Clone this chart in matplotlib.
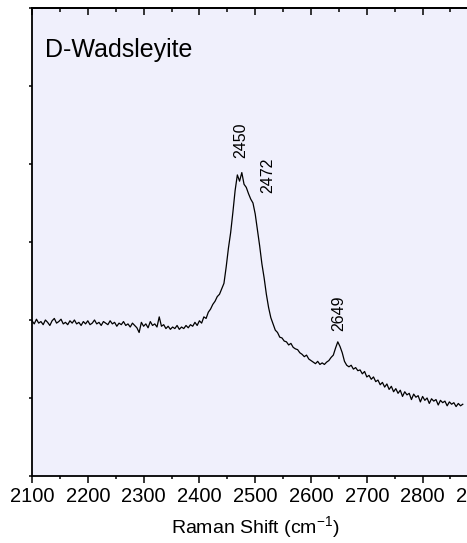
import numpy as np
import matplotlib
matplotlib.use("Agg")
import matplotlib.pyplot as plt
from matplotlib.ticker import MultipleLocator

plt.rcParams['font.family'] = ['Liberation Sans', 'DejaVu Sans']
plt.rcParams['mathtext.fontset'] = 'custom'
plt.rcParams['mathtext.rm'] = 'Liberation Sans'
plt.rcParams['mathtext.it'] = 'Liberation Sans:italic'
plt.rcParams['mathtext.bf'] = 'Liberation Sans:bold'

# Raman shift grid (cm^-1), 4 cm^-1 spacing from 2100 to 2872
shift = np.arange(2100, 2873, 4)

# Intensity (arb. units)
intensity = [
    1.99, 1.95, 2.01, 1.96, 1.98, 1.94, 2.00, 1.97, 1.93, 1.99,
    2.02, 1.96, 1.98, 2.01, 1.95, 1.97, 1.94, 1.99, 1.96, 2.00,
    1.95, 1.97, 1.93, 1.98, 1.95, 1.99, 1.94, 1.96, 2.00, 1.95,
    1.97, 1.93, 1.98, 1.96, 1.94, 1.99, 1.95, 1.97, 1.92, 1.96,
    1.94, 1.98, 1.93, 1.95, 1.91, 1.96, 1.93, 1.90, 1.84, 1.97,
    1.92, 1.95, 1.90, 1.98, 1.93, 1.95, 1.91, 2.04, 1.92, 1.94,
    1.89, 1.92, 1.88, 1.91, 1.89, 1.93, 1.88, 1.91, 1.89, 1.93,
    1.90, 1.94, 1.92, 1.97, 1.93, 1.99, 1.96, 2.04, 2.02, 2.10,
    2.14, 2.20, 2.24, 2.30, 2.33, 2.40, 2.47, 2.68, 2.92, 3.12,
    3.38, 3.66, 3.86, 3.78, 3.89, 3.74, 3.70, 3.62, 3.55, 3.50,
    3.36, 3.16, 2.95, 2.72, 2.54, 2.33, 2.16, 2.03, 1.95, 1.87,
    1.84, 1.78, 1.77, 1.73, 1.72, 1.68, 1.70, 1.65, 1.63, 1.62,
    1.58, 1.56, 1.53, 1.55, 1.50, 1.48, 1.46, 1.44, 1.47, 1.43,
    1.45, 1.43, 1.46, 1.48, 1.52, 1.55, 1.64, 1.72, 1.66, 1.58,
    1.47, 1.42, 1.40, 1.42, 1.37, 1.39, 1.35, 1.36, 1.31, 1.34,
    1.27, 1.29, 1.24, 1.27, 1.21, 1.23, 1.17, 1.20, 1.14, 1.18,
    1.11, 1.15, 1.08, 1.12, 1.06, 1.10, 1.02, 1.08, 1.04, 1.06,
    0.98, 1.05, 1.01, 1.03, 0.95, 1.02, 0.97, 1.00, 0.93, 0.99,
    0.96, 0.98, 0.91, 0.97, 0.94, 0.96, 0.90, 0.95, 0.92, 0.94,
    0.89, 0.93, 0.90, 0.92,
]

peak_labels = ["2450", "2472", "2649"]
peak_x = [2475, 2523, 2650]
peak_y = [4.31, 3.86, 2.09]

title = "D-Wadsleyite"
xticks = [2100, 2200, 2300, 2400, 2500, 2600, 2700, 2800, 2900]

fig = plt.figure(figsize=(4.67, 5.43), dpi=100)
ax = fig.add_axes([32/467, 1-476/543, 446.4/467, 468/543])
ax.set_facecolor('#F0F0FC')
ax.plot(shift, intensity, color='black', lw=0.9)

ax.set_xlim(2100, 2900)
ax.set_ylim(0, 6)
ax.set_xticks(xticks)
ax.xaxis.set_minor_locator(MultipleLocator(50))
ax.yaxis.set_major_locator(MultipleLocator(1))
ax.set_yticklabels([])
ax.tick_params(axis='x', which='major', direction='out', length=5, width=1.1,
               labelsize=14.5, pad=3, top=False)
ax.tick_params(axis='x', which='minor', direction='out', length=2.5, width=1.1, top=False)
ax.tick_params(axis='y', which='major', direction='out', length=2, width=1.1, right=False)

# top ticks drawn inward
sec = ax.secondary_xaxis('top')
sec.set_xticks(xticks)
sec.xaxis.set_minor_locator(MultipleLocator(50))
sec.tick_params(axis='x', which='major', direction='in', length=5, width=1.1, labeltop=False)
sec.tick_params(axis='x', which='minor', direction='in', length=3, width=1.1)
sec.spines['top'].set_linewidth(1.3)

for s in ax.spines.values():
    s.set_linewidth(1.3)

ax.set_xlabel('Raman Shift (cm$^{-1}$)', fontsize=14, labelpad=6)
ax.text(13/446.4, 0.895, title, transform=ax.transAxes, fontsize=18,
        ha='left', va='baseline')
for lab, xx, yy in zip(peak_labels, peak_x, peak_y):
    ax.text(xx, yy, lab, rotation=90, ha='center', va='center', fontsize=11.5)

fig.savefig('out.png', dpi=100)
